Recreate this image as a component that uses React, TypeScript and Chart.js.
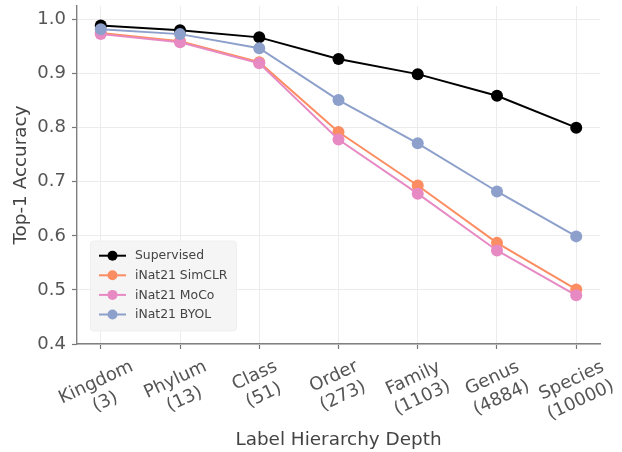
import React, { useEffect, useRef } from 'react';
import { Chart, registerables } from 'chart.js';

Chart.register(...registerables);

const categories = ['Kingdom', 'Phylum', 'Class', 'Order', 'Family', 'Genus', 'Species'];
const classCounts = ['(3)', '(13)', '(51)', '(273)', '(1103)', '(4884)', '(10000)'];
const seriesNames = ['Supervised', 'iNat21 SimCLR', 'iNat21 MoCo', 'iNat21 BYOL'];
const seriesColors = ['#000000', '#fc8d62', '#e78ac3', '#8da0cb'];
const supervised = [0.989, 0.98, 0.967, 0.927, 0.899, 0.859, 0.8];
const simclr = [0.975, 0.96, 0.921, 0.792, 0.693, 0.587, 0.501];
const moco = [0.973, 0.958, 0.919, 0.778, 0.678, 0.573, 0.49];
const byol = [0.982, 0.973, 0.947, 0.851, 0.771, 0.682, 0.599];
const yTicks = [0.4, 0.5, 0.6, 0.7, 0.8, 0.9, 1.0];
const xTitle = 'Label Hierarchy Depth';
const yTitle = 'Top-1 Accuracy';

const FONT = '"DejaVu Sans", sans-serif';

const xLabelPlugin = {
  id: 'xLabels',
  afterDraw(chart: any) {
    const { ctx } = chart;
    const xs = chart.scales.x;
    const ys = chart.scales.y;
    const size = 18;
    const lh = size * 1.2;
    const ang = (25 * Math.PI) / 180;
    ctx.save();
    ctx.font = `${size}px ${FONT}`;
    ctx.fillStyle = '#555555';
    ctx.textAlign = 'center';
    ctx.textBaseline = 'middle';
    categories.forEach((c, i) => {
      const lines = [c, classCounts[i]];
      const w = Math.max(...lines.map((l) => ctx.measureText(l).width));
      const h = lines.length * lh;
      const bh = w * Math.sin(ang) + h * Math.cos(ang);
      const cx = xs.getPixelForValue(i);
      const cy = ys.bottom + 12 + bh / 2;
      ctx.save();
      ctx.translate(cx, cy);
      ctx.rotate(-ang);
      lines.forEach((l, j) => {
        ctx.fillText(l, 0, (j - (lines.length - 1) / 2) * lh);
      });
      ctx.restore();
    });
    ctx.restore();
  },
};

const legendPlugin = {
  id: 'customLegend',
  afterDatasetsDraw(chart: any) {
    const { ctx, chartArea } = chart;
    const x = chartArea.left + 13.5;
    const w = 146;
    const h = 90;
    const y = chartArea.bottom - 13 - h;
    ctx.save();
    ctx.fillStyle = 'rgba(244,244,244,0.95)';
    ctx.strokeStyle = '#efefef';
    ctx.lineWidth = 1;
    ctx.beginPath();
    if (ctx.roundRect) ctx.roundRect(x, y, w, h, 3);
    else ctx.rect(x, y, w, h);
    ctx.fill();
    ctx.stroke();
    ctx.font = `12.4px ${FONT}`;
    ctx.textBaseline = 'middle';
    ctx.textAlign = 'left';
    seriesNames.forEach((name, k) => {
      const ry = y + 14.7 + k * 19.6;
      const col = seriesColors[k];
      ctx.strokeStyle = col;
      ctx.lineWidth = 2;
      ctx.beginPath();
      ctx.moveTo(x + 8.5, ry);
      ctx.lineTo(x + 35.5, ry);
      ctx.stroke();
      ctx.fillStyle = col;
      ctx.beginPath();
      ctx.arc(x + 22, ry, 5, 0, Math.PI * 2);
      ctx.fill();
      ctx.fillStyle = '#444444';
      ctx.fillText(name, x + 44.5, ry + 0.5);
    });
    ctx.restore();
  },
};

export default function App() {
  const ref = useRef<HTMLCanvasElement | null>(null);

  useEffect(() => {
    if (!ref.current) return;
    const seriesData = [supervised, simclr, moco, byol];
    const orders = [4, 3, 2, 1];
    const chart = new Chart(ref.current, {
      type: 'line',
      data: {
        datasets: seriesData.map((arr, k) => ({
          label: seriesNames[k],
          data: arr.map((v, i) => ({ x: i, y: v })),
          borderColor: seriesColors[k],
          backgroundColor: seriesColors[k],
          pointBackgroundColor: seriesColors[k],
          pointBorderColor: seriesColors[k],
          pointBorderWidth: 0,
          pointRadius: 6,
          borderWidth: 2,
          tension: 0,
          order: orders[k],
        })),
      },
      options: {
        animation: false,
        responsive: false,
        devicePixelRatio: 1,
        layout: { padding: { top: 4, right: 22, left: 0, bottom: 0 } },
        plugins: {
          legend: { display: false },
          tooltip: { enabled: false },
        },
        scales: {
          x: {
            type: 'linear',
            min: -0.3,
            max: 6.3,
            afterBuildTicks: (scale: any) => {
              scale.ticks = categories.map((_, i) => ({ value: i }));
            },
            afterFit: (scale: any) => {
              scale.height = 108;
              scale.paddingLeft = 0;
              scale.paddingRight = 0;
            },
            ticks: { display: false },
            grid: {
              color: '#ececec',
              lineWidth: 1,
              tickColor: '#777777',
              tickLength: 5,
              tickWidth: 1.2,
            },
            border: { color: '#808080', width: 1.4 },
            title: {
              display: true,
              text: xTitle,
              color: '#444444',
              font: { family: FONT, size: 18.4 },
              padding: { top: 0, bottom: 1 },
            },
          },
          y: {
            type: 'linear',
            min: 0.4,
            max: 1.025,
            afterBuildTicks: (scale: any) => {
              scale.ticks = yTicks.map((v) => ({ value: v }));
            },
            afterFit: (scale: any) => {
              scale.width = 77;
              scale.paddingTop = 0;
              scale.paddingBottom = 0;
            },
            ticks: {
              color: '#555555',
              font: { family: FONT, size: 18 },
              padding: 6,
              callback: (v: any) => Number(v).toFixed(1),
            },
            grid: {
              color: '#ececec',
              lineWidth: 1,
              tickColor: '#777777',
              tickLength: 5,
              tickWidth: 1.2,
            },
            border: { color: '#808080', width: 1.4 },
            title: {
              display: true,
              text: yTitle,
              color: '#444444',
              font: { family: FONT, size: 18.4 },
              padding: { top: 10, bottom: 0 },
            },
          },
        },
      },
      plugins: [legendPlugin, xLabelPlugin],
    } as any);
    return () => chart.destroy();
  }, []);

  return (
    <div style={{ position: 'absolute', left: 0, top: 0, width: 622, height: 452, background: '#ffffff' }}>
      <canvas ref={ref} width={622} height={452} />
    </div>
  );
}
